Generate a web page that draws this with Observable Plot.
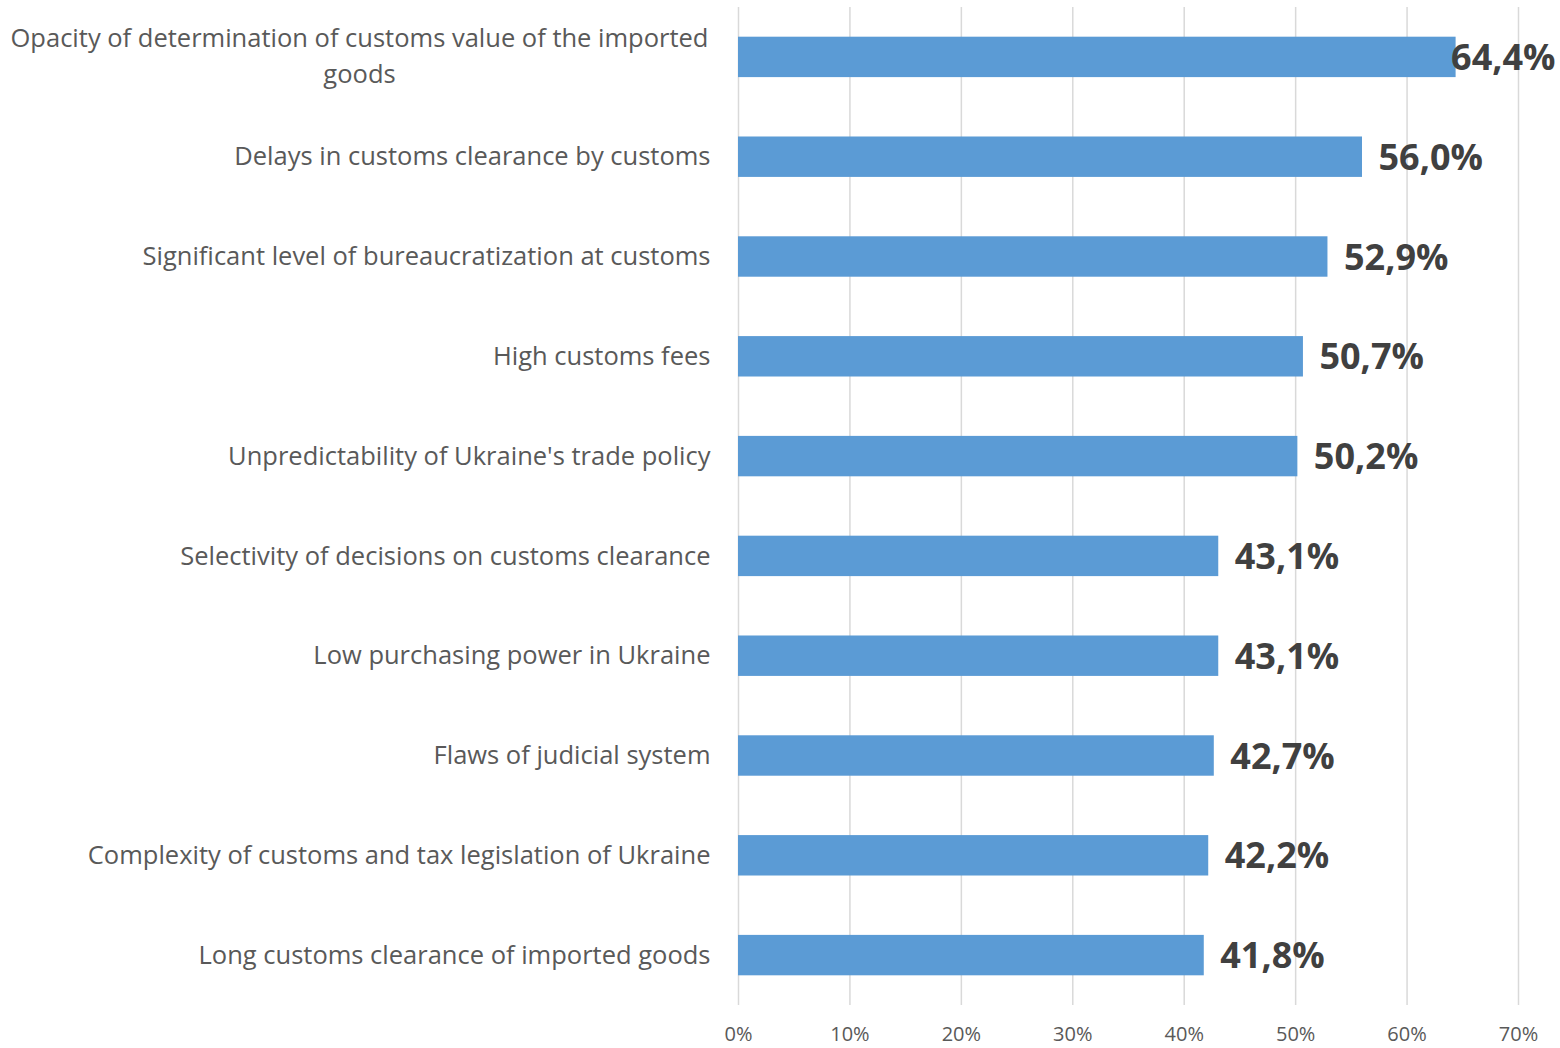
<!DOCTYPE html>
<html><head><meta charset="utf-8">
<script src="https://cdn.jsdelivr.net/npm/d3@7"></script>
<script src="https://cdn.jsdelivr.net/npm/@observablehq/plot@0.6"></script>
<style>
body{margin:0;background:#fff;}
#chart svg{font-family:"Open Sans",sans-serif;}
</style>
</head><body><div id="chart"></div>
<script>
const categories = [
  "Opacity of determination of customs value of the imported\ngoods",
  "Delays in customs clearance by customs",
  "Significant level of bureaucratization at customs",
  "High customs fees",
  "Unpredictability of Ukraine's trade policy",
  "Selectivity of decisions on customs clearance",
  "Low purchasing power in Ukraine",
  "Flaws of judicial system",
  "Complexity of customs and tax legislation of Ukraine",
  "Long customs clearance of imported goods"
];
const values = [64.4, 56.0, 52.9, 50.7, 50.2, 43.1, 43.1, 42.7, 42.2, 41.8];
const xTicks = [0, 10, 20, 30, 40, 50, 60, 70];

const data = categories.map((c, i) => ({
  category: c,
  value: values[i],
  label: values[i].toFixed(1).replace(".", ",") + "%",
  wrapped: c.includes("\n")
}));
const maxV = d3.max(values);

const W = 1560, H = 1048, ML = 738, MR = 42, MT = 7, MB = 43;

const chart = Plot.plot({
  width: W, height: H,
  marginLeft: ML, marginRight: MR, marginTop: MT, marginBottom: MB,
  style: {fontFamily: "'Open Sans', sans-serif", background: "#fff"},
  x: {domain: [0, 70], ticks: xTicks},
  y: {domain: categories, paddingInner: 0.595, paddingOuter: 0.2975, align: 0.5, round: false},
  marks: [
    Plot.ruleX(xTicks, {stroke: "#d9d9d9", strokeWidth: 1.5}),
    Plot.barX(data, {y: "category", x: "value", fill: "#5b9bd5"}),
    Plot.axisX({ticks: xTicks, tickFormat: d => d + "%", tickSize: 0, tickPadding: 21,
      fontSize: 20, fill: "#595959", label: null}),
    Plot.axisY({tickSize: 0, tickPadding: 28, fontSize: 25.5, fill: "#595959", label: null,
      tickFormat: d => d.includes("\n") ? "" : d}),
    Plot.text(data.filter(d => d.wrapped), {
      y: "category", text: "category", frameAnchor: "left", dx: -(ML - 359), dy: -4,
      textAnchor: "middle", fontSize: 25.5, fill: "#595959", lineHeight: 1.41
    }),
    Plot.text(data.filter(d => d.value !== maxV), {
      y: "category", x: "value", text: "label", textAnchor: "start", dx: 16, dy: 1,
      fontSize: 36, fontWeight: "bold", fill: "#404040"
    }),
    Plot.text(data.filter(d => d.value === maxV), {
      y: "category", text: "label", frameAnchor: "right", textAnchor: "end", dx: 37, dy: 1,
      fontSize: 36, fontWeight: "bold", fill: "#404040"
    })
  ]
});
document.getElementById("chart").appendChild(chart);
</script>
</body></html>
